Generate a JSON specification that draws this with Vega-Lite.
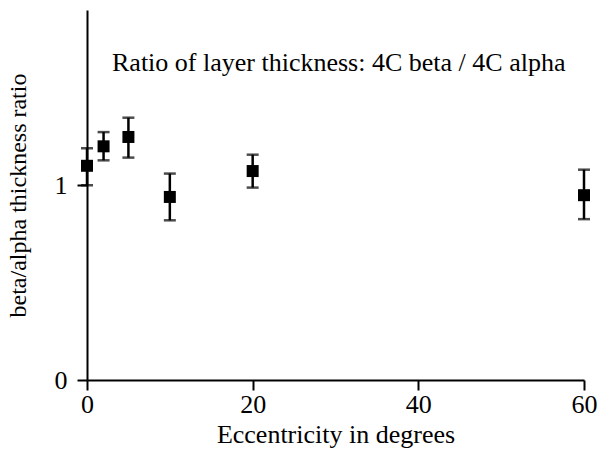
{
  "$schema": "https://vega.github.io/schema/vega-lite/v6.json",
  "width": 497,
  "height": 370,
  "autosize": "none",
  "padding": {"left": 87, "top": 10, "right": 16, "bottom": 83},
  "background": "white",
  "title": {
    "text": "Ratio of layer thickness: 4C beta / 4C alpha",
    "anchor": "start",
    "frame": "group",
    "dx": 25,
    "offset": -66,
    "font": "Liberation Serif",
    "fontSize": 26,
    "fontWeight": "normal",
    "color": "black"
  },
  "data": {
    "values": [
      {"ecc": 0, "ratio": 1.10, "lo": 1.00, "hi": 1.19},
      {"ecc": 2, "ratio": 1.20, "lo": 1.128, "hi": 1.273},
      {"ecc": 5, "ratio": 1.248, "lo": 1.142, "hi": 1.347},
      {"ecc": 10, "ratio": 0.94, "lo": 0.82, "hi": 1.06},
      {"ecc": 20, "ratio": 1.073, "lo": 0.988, "hi": 1.157},
      {"ecc": 60, "ratio": 0.949, "lo": 0.826, "hi": 1.08}
    ]
  },
  "config": {
    "view": {"stroke": null},
    "axis": {
      "grid": false,
      "domainColor": "black",
      "domainWidth": 2,
      "tickColor": "black",
      "tickWidth": 2,
      "tickSize": 10,
      "labelFont": "Liberation Serif",
      "labelFontSize": 26,
      "labelColor": "black",
      "labelFlush": false,
      "labelOverlap": false,
      "titleFont": "Liberation Serif",
      "titleFontSize": 26,
      "titleFontWeight": "normal",
      "titleColor": "black"
    }
  },
  "layer": [
    {
      "mark": {"type": "rule", "color": "black", "strokeWidth": 2.5},
      "encoding": {
        "x": {"field": "ecc", "type": "quantitative", "scale": {"domain": [0, 60], "nice": false, "zero": true},
          "axis": {"values": [0, 20, 40, 60], "format": "d", "title": "Eccentricity in degrees", "labelPadding": 1, "titlePadding": 4}},
        "y": {"field": "lo", "type": "quantitative", "scale": {"domain": [0, 1.9], "nice": false},
          "axis": {"values": [0, 1], "format": "d", "title": "beta/alpha thickness ratio", "titleFontSize": 24, "labelPadding": 10, "titlePadding": 24}},
        "y2": {"field": "hi"}
      }
    },
    {
      "mark": {"type": "tick", "color": "black", "thickness": 2.5, "size": 12, "orient": "horizontal"},
      "encoding": {
        "x": {"field": "ecc", "type": "quantitative"},
        "y": {"field": "lo", "type": "quantitative"}
      }
    },
    {
      "mark": {"type": "tick", "color": "black", "thickness": 2.5, "size": 12, "orient": "horizontal"},
      "encoding": {
        "x": {"field": "ecc", "type": "quantitative"},
        "y": {"field": "hi", "type": "quantitative"}
      }
    },
    {
      "mark": {"type": "point", "shape": "square", "filled": true, "color": "black", "opacity": 1, "size": 144},
      "encoding": {
        "x": {"field": "ecc", "type": "quantitative"},
        "y": {"field": "ratio", "type": "quantitative"}
      }
    }
  ]
}
